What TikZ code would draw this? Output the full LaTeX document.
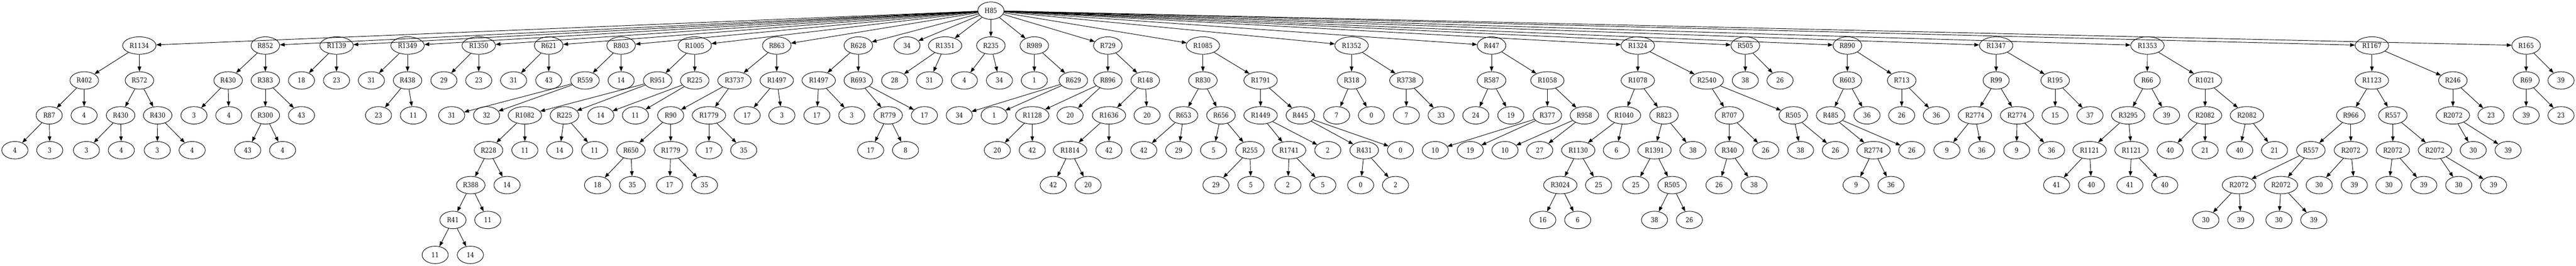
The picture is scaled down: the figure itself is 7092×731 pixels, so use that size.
\documentclass[tikz,border=0pt]{standalone}
\usepackage{fontspec}
\setmainfont{DejaVu Serif}[FakeStretch=0.86]
\usetikzlibrary{shapes.geometric,arrows.meta}
\tikzset{
  base/.style={ellipse,draw,line width=1pt,inner sep=0pt,minimum height=36pt,font=\fontsize{14pt}{16pt}\selectfont},
  lf/.style={base,minimum width=54pt},
  rthree/.style={base,minimum width=59pt},
  rfour/.style={base,minimum width=69pt},
  edge/.style={line width=1pt,-{Triangle[length=10pt,width=7.5pt]}}
}
\begin{document}
\begin{tikzpicture}[x=0.75pt,y=-0.75pt]
\useasboundingbox (0,0) rectangle (7092,731);
% root
\node[lf] (h) at (2728,29.3) {H85};
% level 1
\def\ya{125.3}
\node[rfour] (c1) at (383.5,\ya) {R1134};
\node[rthree] (c2) at (730.5,\ya) {R852};
\node[rfour] (c3) at (926.5,\ya) {R1139};
\node[rfour] (c4) at (1122,\ya) {R1349};
\node[rfour] (c5) at (1318,\ya) {R1350};
\node[rthree] (c6) at (1510.7,\ya) {R621};
\node[rthree] (c7) at (1710,\ya) {R803};
\node[rfour] (c8) at (1912.7,\ya) {R1005};
\node[rthree] (c9) at (2138.5,\ya) {R863};
\node[rthree] (c10) at (2363,\ya) {R628};
\node[lf] (c11) at (2497,\ya) {34};
\node[rfour] (c12) at (2602,\ya) {R1351};
\node[rthree] (c13) at (2728,\ya) {R235};
\node[rthree] (c14) at (2847.6,\ya) {R989};
\node[rthree] (c15) at (3050,\ya) {R729};
\node[rfour] (c16) at (3311.7,\ya) {R1085};
\node[rfour] (c17) at (3721,\ya) {R1352};
\node[rthree] (c18) at (4106.4,\ya) {R447};
\node[rfour] (c19) at (4509,\ya) {R1324};
\node[rthree] (c20) at (4805,\ya) {R505};
\node[rthree] (c21) at (5086,\ya) {R890};
\node[rfour] (c22) at (5495.6,\ya) {R1347};
\node[rfour] (c23) at (5912,\ya) {R1353};
\node[rfour] (c24) at (6530,\ya) {R1167};
\node[rthree] (c25) at (6954.7,\ya) {R165};
% level 2
\def\yb{221.3}
\node[rthree] (c1a) at (232,\yb) {R402};
\node[rthree] (c1b) at (384,\yb) {R572};
\node[rthree] (c2a) at (628,\yb) {R430};
\node[rthree] (c2b) at (730.5,\yb) {R383};
\node[lf] (c3a) at (830,\yb) {18};
\node[lf] (c3b) at (926.5,\yb) {23};
\node[lf] (c4a) at (1022.5,\yb) {31};
\node[rthree] (c4b) at (1122,\yb) {R438};
\node[lf] (c5a) at (1222,\yb) {29};
\node[lf] (c5b) at (1318,\yb) {23};
\node[lf] (c6a) at (1414,\yb) {31};
\node[lf] (c6b) at (1510.7,\yb) {43};
\node[rthree] (c7a) at (1610.5,\yb) {R559};
\node[lf] (c7b) at (1710,\yb) {14};
\node[rthree] (c8a) at (1810.6,\yb) {R951};
\node[rthree] (c8b) at (1912.7,\yb) {R225};
\node[rfour] (c9a) at (2022,\yb) {R3737};
\node[rfour] (c9b) at (2138.5,\yb) {R1497};
\node[rfour] (c10a) at (2254,\yb) {R1497};
\node[rthree] (c10b) at (2363,\yb) {R693};
\node[lf] (c12a) at (2463,\yb) {28};
\node[lf] (c12b) at (2559,\yb) {31};
\node[lf] (c13a) at (2655,\yb) {4};
\node[lf] (c13b) at (2751.5,\yb) {34};
\node[lf] (c14a) at (2847.6,\yb) {1};
\node[rthree] (c14b) at (2955,\yb) {R629};
\node[rthree] (c15a) at (3050,\yb) {R896};
\node[rthree] (c15b) at (3153,\yb) {R148};
\node[rthree] (c16a) at (3311.7,\yb) {R830};
\node[rfour] (c16b) at (3470.5,\yb) {R1791};
\node[rthree] (c17a) at (3721,\yb) {R318};
\node[rfour] (c17b) at (3871.8,\yb) {R3738};
\node[rthree] (c18a) at (4106.4,\yb) {R587};
\node[rfour] (c18b) at (4260,\yb) {R1058};
\node[rfour] (c19a) at (4509,\yb) {R1078};
\node[rfour] (c19b) at (4699,\yb) {R2540};
\node[lf] (c20a) at (4805,\yb) {38};
\node[lf] (c20b) at (4900.6,\yb) {26};
\node[rthree] (c21a) at (5086,\yb) {R603};
\node[rthree] (c21b) at (5235.5,\yb) {R713};
\node[lf] (c22a) at (5495.6,\yb) {R99};
\node[rthree] (c22b) at (5658,\yb) {R195};
\node[lf] (c23a) at (5911.5,\yb) {R66};
\node[rfour] (c23b) at (6070.7,\yb) {R1021};
\node[rfour] (c24a) at (6530,\yb) {R1123};
\node[rthree] (c24b) at (6753,\yb) {R246};
\node[lf] (c25a) at (6954.7,\yb) {R69};
\node[lf] (c25b) at (7050.7,\yb) {39};
% level 3
\def\yc{317.3}
\node[lf] (c1aa) at (135.5,\yc) {R87};
\node[lf] (c1ab) at (231.5,\yc) {4};
\node[rthree] (c1ba) at (332,\yc) {R430};
\node[rthree] (c1bb) at (434,\yc) {R430};
\node[lf] (c2aa) at (534,\yc) {3};
\node[lf] (c2ab) at (630,\yc) {4};
\node[rthree] (c2ba) at (730.5,\yc) {R300};
\node[lf] (c2bb) at (830,\yc) {43};
\node[lf] (c4ba) at (1042,\yc) {23};
\node[lf] (c4bb) at (1138,\yc) {11};
\node[lf] (c7aa) at (1243.5,\yc) {31};
\node[lf] (c7ab) at (1339.6,\yc) {32};
\node[rfour] (c8aa) at (1445,\yc) {R1082};
\node[rthree] (c8ab) at (1554,\yc) {R225};
\node[lf] (c8ba) at (1654,\yc) {14};
\node[lf] (c8bb) at (1749.5,\yc) {11};
\node[lf] (c9aa) at (1846.5,\yc) {R90};
\node[rfour] (c9ab) at (1951.8,\yc) {R1779};
\node[lf] (c9ba) at (2057,\yc) {17};
\node[lf] (c9bb) at (2152.7,\yc) {3};
\node[lf] (c10aa) at (2249,\yc) {17};
\node[lf] (c10ab) at (2345,\yc) {3};
\node[rthree] (c10ba) at (2445,\yc) {R779};
\node[lf] (c10bb) at (2545,\yc) {17};
\node[lf] (c14ba) at (2641,\yc) {34};
\node[lf] (c14bb) at (2737,\yc) {1};
\node[rfour] (c15aa) at (2842,\yc) {R1128};
\node[lf] (c15ab) at (2946,\yc) {20};
\node[rfour] (c15ba) at (3053,\yc) {R1636};
\node[lf] (c15bb) at (3158,\yc) {20};
\node[rthree] (c16aa) at (3258.5,\yc) {R653};
\node[rthree] (c16ab) at (3361.4,\yc) {R656};
\node[rfour] (c16ba) at (3470.5,\yc) {R1449};
\node[rthree] (c16bb) at (3580,\yc) {R445};
\node[lf] (c17aa) at (3679.7,\yc) {7};
\node[lf] (c17ab) at (3775.7,\yc) {0};
\node[lf] (c17ba) at (3871.8,\yc) {7};
\node[lf] (c17bb) at (3967.5,\yc) {33};
\node[lf] (c18aa) at (4063,\yc) {24};
\node[lf] (c18ab) at (4159.5,\yc) {19};
\node[rthree] (c18ba) at (4260,\yc) {R377};
\node[rthree] (c18bb) at (4362,\yc) {R958};
\node[rfour] (c19aa) at (4471,\yc) {R1040};
\node[rthree] (c19ab) at (4581,\yc) {R823};
\node[rthree] (c19ba) at (4761,\yc) {R707};
\node[rthree] (c19bb) at (4937,\yc) {R505};
\node[rthree] (c21aa) at (5040,\yc) {R485};
\node[lf] (c21ab) at (5140,\yc) {36};
\node[lf] (c21ba) at (5235.5,\yc) {26};
\node[lf] (c21bb) at (5331,\yc) {36};
\node[rfour] (c22aa) at (5437,\yc) {R2774};
\node[rfour] (c22ab) at (5553,\yc) {R2774};
\node[lf] (c22ba) at (5658,\yc) {15};
\node[lf] (c22bb) at (5754,\yc) {37};
\node[rfour] (c23aa) at (5859,\yc) {R3295};
\node[lf] (c23ab) at (5964.7,\yc) {39};
\node[rfour] (c23ba) at (6070.7,\yc) {R2082};
\node[rfour] (c23bb) at (6186,\yc) {R2082};
\node[rthree] (c24aa) at (6472,\yc) {R966};
\node[rthree] (c24ab) at (6587.7,\yc) {R557};
\node[rfour] (c24ba) at (6753,\yc) {R2072};
\node[lf] (c24bb) at (6858,\yc) {23};
\node[lf] (c25aa) at (6954.7,\yc) {39};
\node[lf] (c25ab) at (7050.7,\yc) {23};
% level 4
\def\yd{413.3}
\node[lf] (c1aaa) at (41,\yd) {4};
\node[lf] (c1aab) at (137,\yd) {3};
\node[lf] (c1baa) at (238,\yd) {3};
\node[lf] (c1bab) at (334,\yd) {4};
\node[lf] (c1bba) at (433,\yd) {3};
\node[lf] (c1bbb) at (529,\yd) {4};
\node[lf] (c2baa) at (682,\yd) {43};
\node[lf] (c2bab) at (778,\yd) {4};
\node[rthree] (c8aaa) at (1345,\yd) {R228};
\node[lf] (c8aab) at (1445,\yd) {11};
\node[lf] (c8aba) at (1541,\yd) {14};
\node[lf] (c8abb) at (1637,\yd) {11};
\node[rthree] (c9aaa) at (1737,\yd) {R650};
\node[rfour] (c9aab) at (1846.5,\yd) {R1779};
\node[lf] (c9aba) at (1951.8,\yd) {17};
\node[lf] (c9abb) at (2047.5,\yd) {35};
\node[lf] (c10baa) at (2397,\yd) {17};
\node[lf] (c10bab) at (2493,\yd) {8};
\node[lf] (c15aaa) at (2745.8,\yd) {20};
\node[lf] (c15aab) at (2842,\yd) {42};
\node[rfour] (c15baa) at (2946,\yd) {R1814};
\node[lf] (c15bab) at (3053,\yd) {42};
\node[lf] (c16aaa) at (3149,\yd) {42};
\node[lf] (c16aab) at (3245,\yd) {29};
\node[lf] (c16aba) at (3341,\yd) {5};
\node[rthree] (c16abb) at (3441.4,\yd) {R255};
\node[rfour] (c16baa) at (3549,\yd) {R1741};
\node[lf] (c16bab) at (3655.6,\yd) {2};
\node[rthree] (c16bba) at (3755.8,\yd) {R431};
\node[lf] (c16bbb) at (3855.7,\yd) {0};
\node[lf] (c18baa) at (3951.4,\yd) {10};
\node[lf] (c18bab) at (4047.8,\yd) {19};
\node[lf] (c18bba) at (4143.4,\yd) {10};
\node[lf] (c18bbb) at (4239,\yd) {27};
\node[rfour] (c19aaa) at (4345,\yd) {R1130};
\node[lf] (c19aab) at (4450,\yd) {6};
\node[rfour] (c19aba) at (4555,\yd) {R1391};
\node[lf] (c19abb) at (4660.8,\yd) {38};
\node[rthree] (c19baa) at (4761,\yd) {R340};
\node[lf] (c19bab) at (4861,\yd) {26};
\node[lf] (c19bba) at (4957,\yd) {38};
\node[lf] (c19bbb) at (5053,\yd) {26};
\node[rfour] (c21aaa) at (5158,\yd) {R2774};
\node[lf] (c21aab) at (5263.4,\yd) {26};
\node[lf] (c22aaa) at (5360,\yd) {9};
\node[lf] (c22aab) at (5456,\yd) {36};
\node[lf] (c22aba) at (5552,\yd) {9};
\node[lf] (c22abb) at (5648,\yd) {36};
\node[rfour] (c23aaa) at (5752.8,\yd) {R1121};
\node[rfour] (c23aab) at (5868,\yd) {R1121};
\node[lf] (c23baa) at (5974.6,\yd) {40};
\node[lf] (c23bab) at (6070.7,\yd) {21};
\node[lf] (c23bba) at (6166,\yd) {40};
\node[lf] (c23bbb) at (6262,\yd) {21};
\node[rthree] (c24aaa) at (6362,\yd) {R557};
\node[rfour] (c24aab) at (6472,\yd) {R2072};
\node[rfour] (c24aba) at (6587.7,\yd) {R2072};
\node[rfour] (c24abb) at (6703.6,\yd) {R2072};
\node[lf] (c24baa) at (6809,\yd) {30};
\node[lf] (c24bab) at (6905,\yd) {39};
% level 5
\def\ye{509.3}
\node[rthree] (c8aaaa) at (1296,\ye) {R388};
\node[lf] (c8aaab) at (1396,\ye) {14};
\node[lf] (c9aaaa) at (1645,\ye) {18};
\node[lf] (c9aaab) at (1741,\ye) {35};
\node[lf] (c9aaba) at (1843.5,\ye) {17};
\node[lf] (c9aabb) at (1939.5,\ye) {35};
\node[lf] (c15baaa) at (2899.6,\ye) {42};
\node[lf] (c15baab) at (2995.5,\ye) {20};
\node[lf] (c16abba) at (3347.6,\ye) {29};
\node[lf] (c16abbb) at (3443.7,\ye) {5};
\node[lf] (c16baaa) at (3545.7,\ye) {2};
\node[lf] (c16baab) at (3642,\ye) {5};
\node[lf] (c16bbaa) at (3746,\ye) {0};
\node[lf] (c16bbab) at (3842,\ye) {2};
\node[rfour] (c19aaaa) at (4295.7,\ye) {R3024};
\node[lf] (c19aaab) at (4401,\ye) {25};
\node[lf] (c19abaa) at (4503.5,\ye) {25};
\node[rthree] (c19abab) at (4603.4,\ye) {R505};
\node[lf] (c19baaa) at (4732.6,\ye) {26};
\node[lf] (c19baab) at (4829,\ye) {38};
\node[lf] (c21aaaa) at (5110,\ye) {9};
\node[lf] (c21aaab) at (5206,\ye) {36};
\node[lf] (c23aaaa) at (5662,\ye) {41};
\node[lf] (c23aaab) at (5757.8,\ye) {40};
\node[lf] (c23aaba) at (5863.8,\ye) {41};
\node[lf] (c23aabb) at (5959.7,\ye) {40};
\node[rfour] (c24aaaa) at (6164,\ye) {R2072};
\node[rfour] (c24aaab) at (6279.6,\ye) {R2072};
\node[lf] (c24aaba) at (6385,\ye) {30};
\node[lf] (c24aabb) at (6481.7,\ye) {39};
\node[lf] (c24abaa) at (6577,\ye) {30};
\node[lf] (c24abab) at (6673,\ye) {39};
\node[lf] (c24abba) at (6769,\ye) {30};
\node[lf] (c24abbb) at (6865,\ye) {39};
% level 6
\def\yf{605.3}
\node[lf] (c8aaaaa) at (1247,\yf) {R41};
\node[lf] (c8aaaab) at (1343,\yf) {11};
\node[lf] (c19aaaaa) at (4247.5,\yf) {16};
\node[lf] (c19aaaab) at (4343.5,\yf) {6};
\node[lf] (c19ababa) at (4555,\yf) {38};
\node[lf] (c19ababb) at (4651,\yf) {26};
\node[lf] (c24aaaaa) at (6073,\yf) {30};
\node[lf] (c24aaaab) at (6169,\yf) {39};
\node[lf] (c24aaaba) at (6274,\yf) {30};
\node[lf] (c24aaabb) at (6370,\yf) {39};
% level 7
\def\yg{701.3}
\node[lf] (c8aaaaaa) at (1198,\yg) {11};
\node[lf] (c8aaaaab) at (1295,\yg) {14};
% edges from root
\foreach \k in {1,...,25} {\draw[edge] (h) -- (c\k);}
% edges from inner nodes to their two children
\foreach \p in {c1,c2,c3,c4,c5,c6,c7,c8,c9,c10,c12,c13,c14,c15,c16,c17,c18,c19,c20,c21,c22,c23,c24,c25,
  c1a,c1b,c2a,c2b,c4b,c7a,c8a,c8b,c9a,c9b,c10a,c10b,c14b,c15a,c15b,c16a,c16b,c17a,c17b,c18a,c18b,c19a,c19b,c21a,c21b,c22a,c22b,c23a,c23b,c24a,c24b,c25a,
  c1aa,c1ba,c1bb,c2ba,c8aa,c8ab,c9aa,c9ab,c10ba,c15aa,c15ba,c16aa,c16ab,c16ba,c16bb,c18ba,c18bb,c19aa,c19ab,c19ba,c19bb,c21aa,c22aa,c22ab,c23aa,c23ba,c23bb,c24aa,c24ab,c24ba,
  c8aaa,c9aaa,c9aab,c15baa,c16abb,c16baa,c16bba,c19aaa,c19aba,c19baa,c21aaa,c23aaa,c23aab,c24aaa,c24aab,c24aba,c24abb,
  c8aaaa,c19aaaa,c19abab,c24aaaa,c24aaab,
  c8aaaaa}
{\draw[edge] (\p) -- (\p a); \draw[edge] (\p) -- (\p b);}
\end{tikzpicture}
\end{document}
